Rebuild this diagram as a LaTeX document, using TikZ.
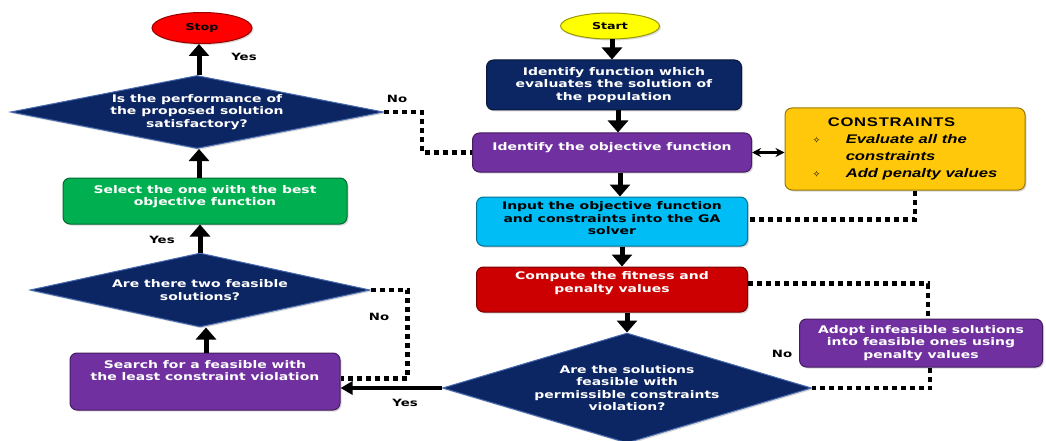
\documentclass[tikz,border=0pt]{standalone}
\usepackage{fontspec}
\setmainfont{DejaVu Sans}[FakeStretch=1.33]
\newfontfamily\consfont{Liberation Sans}[FakeStretch=1.33]
\newfontfamily\symfont{DejaVu Sans}
\usetikzlibrary{arrows.meta,shapes.geometric,shadows}
\definecolor{navy}{RGB}{12,38,99}
\definecolor{diaedge}{RGB}{70,105,175}
\definecolor{purp}{RGB}{112,48,160}
\definecolor{cyanbox}{RGB}{0,190,245}
\definecolor{redbox}{RGB}{204,0,0}
\definecolor{greenbox}{RGB}{0,176,80}
\definecolor{gold}{RGB}{255,200,10}
\definecolor{startyellow}{RGB}{255,255,0}
\definecolor{stopred}{RGB}{255,0,0}
\begin{document}
\begin{tikzpicture}[x=1pt,y=-1pt,
  font=\fontsize{10.5}{12.5}\selectfont\bfseries,
  shad/.style={drop shadow={shadow xshift=1.5pt,shadow yshift=-1.5pt,opacity=0.3}},
  box/.style={rectangle, rounded corners=7pt, inner sep=0pt, align=center, line width=1pt, shad},
  dia/.style={diamond, inner sep=0pt, align=center, fill=navy, draw=diaedge, line width=1pt, text=white, shad},
  term/.style={ellipse, inner sep=0pt, line width=1pt, font=\fontsize{9.5}{11}\selectfont\bfseries, shad},
  flow/.style={line width=5pt, -{Triangle[width=20pt,length=12pt]}},
  yesflow/.style={line width=3.5pt, -{Triangle[width=13pt,length=12pt]}},
  dotline/.style={line width=4.5pt, dash pattern=on 5pt off 4pt},
  lbl/.style={font=\fontsize{10}{12}\selectfont\bfseries, text=black, inner sep=0pt},
  bul/.style={}
]
\useasboundingbox (0,0) rectangle (1046,441);
\fill[white] (0,0) rectangle (1046,441);

% right column
\node[term, fill=startyellow, draw=startyellow!60!black, minimum width=99, minimum height=26] (start) at (610,26) {Start};
\node[box, fill=navy, draw=navy!60!black, text=white, minimum width=255, minimum height=50] (box1) at (614,85)
  {Identify function which\\evaluates the solution of\\the population};
\node[box, fill=purp, draw=purp!60!black, text=white, minimum width=279, minimum height=39, text depth=12.5pt] (box2) at (612,152.5)
  {Identify the objective function};
\node[box, fill=cyanbox, draw=cyanbox!60!black, text=black, minimum width=271, minimum height=49, text depth=6.5pt] (box3) at (612,221.5)
  {Input the objective function\\and constraints into the GA\\solver};
\node[box, fill=redbox, draw=redbox!60!black, text=white, minimum width=271, minimum height=45, text depth=14.5pt] (box4) at (612,289.5)
  {Compute the fitness and\\penalty values};
\node[dia, shape aspect=3.35, minimum width=369, minimum height=110] (d3) at (627,388)
  {Are the solutions\\feasible with\\permissible constraints\\violation?};
\node[box, fill=gold, draw=gold!60!black, text=black, minimum width=240, minimum height=82,
  font=\consfont\fontsize{12.5}{17}\selectfont] (cons) at (905,149)
  {\begin{tabular}{@{}p{33pt}@{}l@{}}
   \multicolumn{2}{@{\hspace{15pt}}l@{}}{\bfseries\addfontfeature{LetterSpace=6}CONSTRAINTS}\\
   {\symfont\fontsize{9}{9}\selectfont ✧} & \bfseries\itshape Evaluate all the\\
   & \bfseries\itshape constraints\\
   {\symfont\fontsize{9}{9}\selectfont ✧} & \bfseries\itshape Add penalty values
   \end{tabular}};
\node[box, fill=purp, draw=purp!60!black, text=white, minimum width=243, minimum height=48] (adopt) at (921,343)
  {Adopt infeasible solutions\\into feasible ones using\\penalty values};

% left column
\node[term, fill=stopred, draw=stopred!60!black, minimum width=100, minimum height=31] (stop) at (202,28) {Stop};
\node[dia, shape aspect=5.1, minimum width=373, minimum height=73] (d1) at (197,112)
  {Is the performance of\\the proposed solution\\satisfactory?};
\node[box, fill=greenbox, draw=greenbox!60!black, text=white, minimum width=284, minimum height=46, text depth=10.5pt] (green) at (205,201)
  {Select the one with the best\\objective function};
\node[dia, shape aspect=4.6, minimum width=340, minimum height=74] (d2) at (200,290)
  {Are there two feasible\\solutions?};
\node[box, fill=purp, draw=purp!60!black, text=white, minimum width=270, minimum height=57, text depth=21.5pt] (search) at (205,381.5)
  {Search for a feasible with\\the least constraint violation};

% labels
\node[lbl] (yes1) at (244,57) {Yes};
\node[lbl] (no1) at (397,99) {No};
\node[lbl] (yes2) at (162,240) {Yes};
\node[lbl] (no2) at (379,317) {No};
\node[lbl] (yes3) at (405,403) {Yes};
\node[lbl] (no3) at (782,354) {No};

% main flow arrows
\draw[flow] ([xshift=2pt]start.south) -- ([xshift=2pt]start.south |- box1.north);
\draw[flow] ([xshift=4pt]box1.south) -- ([xshift=4pt]box1.south |- box2.north);
\draw[flow] ([xshift=8pt]box2.south) -- ([xshift=8pt]box2.south |- box3.north);
\draw[flow] ([xshift=10pt]box3.south) -- ([xshift=10pt]box3.south |- box4.north);
\draw[flow] (d3.north |- box4.south) -- (d3.north);
\draw[flow] ([xshift=2pt]d1.north) -- ([xshift=2pt]d1.north |- stop.south);
\draw[flow] ([xshift=2pt]d1.south |- green.north) -- ([xshift=2pt]d1.south);
\draw[flow] (d2.north) -- (d2.north |- green.south);
\draw[flow] ([xshift=1pt]search.north) -- ([xshift=1pt]search.north |- d2.south);
\draw[yesflow] (d3.west) -- (d3.west -| search.east);

% double arrow
\draw[line width=2.2pt, {Stealth[length=9pt,width=9pt]}-{Stealth[length=9pt,width=9pt]}] (box2.east) -- (box2.east -| cons.west);

% dashed connectors
\draw[dotline] (d1.east) -- ++(38,0) |- (box2.west);
\draw[dotline] (d2.east) -- ++(37,0) |- ([yshift=3pt]search.east);
\draw[dotline] ([xshift=10pt]cons.south) |- ([yshift=2pt]box3.east);
\draw[dotline] ([yshift=6pt]box4.east) -| ([xshift=7pt]adopt.north);
\draw[dotline] ([xshift=9pt]adopt.south) |- (d3.east);
\end{tikzpicture}
\end{document}
